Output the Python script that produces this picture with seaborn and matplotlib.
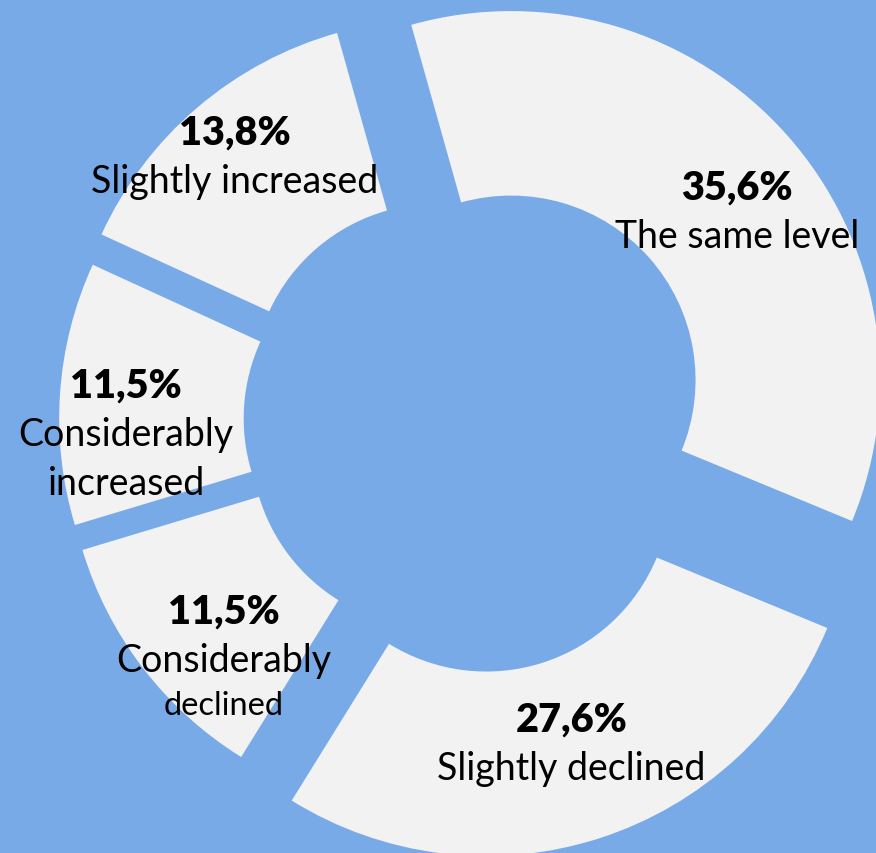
import matplotlib
matplotlib.use("Agg")
import numpy as np
import matplotlib.pyplot as plt
import seaborn as sns

# --- data ---
categories = ["The same level", "Slightly declined", "Considerably declined",
              "Considerably increased", "Slightly increased"]
shares = [35.6, 27.6, 11.5, 11.5, 13.8]
label_lines = [["The same level"], ["Slightly declined"], ["Considerably", "declined"],
               ["Considerably", "increased"], ["Slightly increased"]]
line_sizes = [[27], [27], [27, 23.5], [27, 27], [27]]

# per-slice explosion (fraction of radius) and label placement
explode = [0.167, 0.188, 0.100, 0.100, 0.117]
label_r = [0.786, 0.698, 0.752, 0.821, 0.860]
label_nudge = [-2.8, 1.4, 2.7, -0.3, -1.0]

sns.set_theme(style="white")
plt.rcParams["font.family"] = ["Lato", "DejaVu Sans"]

bg = "#78AAE8"
ring = "#F2F2F2"

fig = plt.figure(figsize=(8.76, 8.54), dpi=100, facecolor=bg)
ax = fig.add_axes([0, 0, 1, 1])
ax.set_facecolor(bg)

wedges, _ = ax.pie(shares, explode=explode, startangle=105.7, counterclock=False,
                   colors=[ring] * len(shares), radius=1,
                   wedgeprops=dict(width=0.5, edgecolor="none", linewidth=0))

# view: pie centre sits at pixel (465, 422) with a 369 px radius
px_per_unit = 369.0
cx_px, cy_px = 465.0, 422.0
ax.set_xlim(-cx_px / px_per_unit, (876 - cx_px) / px_per_unit)
ax.set_ylim(-(854 - cy_px) / px_per_unit, cy_px / px_per_unit)
ax.axis("off")

for i, w in enumerate(wedges):
    ang = np.deg2rad((w.theta1 + w.theta2) / 2 + label_nudge[i])
    x = w.center[0] + label_r[i] * np.cos(ang)
    y = w.center[1] + label_r[i] * np.sin(ang)
    pct = f"{shares[i]:.1f}%".replace(".", ",")
    ax.text(x, y, pct, ha="center", va="baseline", fontsize=28.5, fontweight="heavy",
            color="black")
    off = 0
    for line, size in zip(label_lines[i], line_sizes[i]):
        off += size * 1.3
        ax.annotate(line, xy=(x, y), xytext=(0, -off), textcoords="offset points",
                    ha="center", va="baseline", fontsize=size, color="black")

fig.savefig("out.png", dpi=100, facecolor=fig.get_facecolor())
